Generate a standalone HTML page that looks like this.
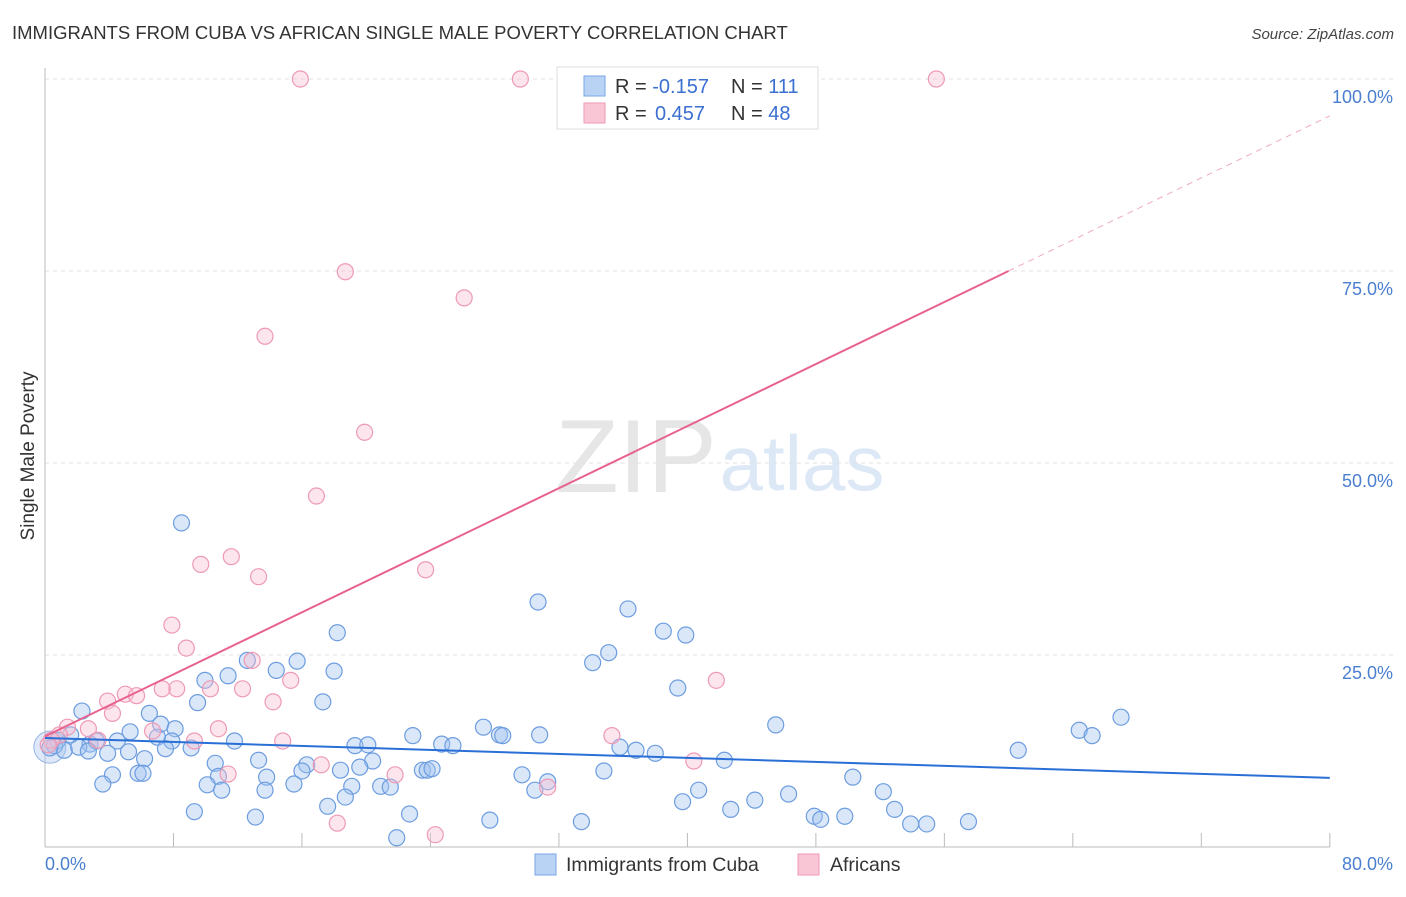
<!DOCTYPE html>
<html><head><meta charset="utf-8"><style>
body{margin:0;background:#fff;font-family:"Liberation Sans",sans-serif}
svg text{font-family:"Liberation Sans",sans-serif}
</style></head><body>
<svg id="chart" width="1406" height="892" xmlns="http://www.w3.org/2000/svg">
<text x="12" y="39" font-size="18.5" fill="#333">IMMIGRANTS FROM CUBA VS AFRICAN SINGLE MALE POVERTY CORRELATION CHART</text>
<text x="1394" y="39" font-size="15" fill="#444" font-style="italic" text-anchor="end">Source: ZipAtlas.com</text>
<text x="636" y="492" font-size="104" fill="#e6e6e6" font-family="Liberation Serif" text-anchor="middle">ZIP</text>
<text x="802" y="490" font-size="78" fill="#dce8f6" text-anchor="middle">atlas</text>
<g id="grid"></g>
<line x1="45" y1="68" x2="45" y2="847" stroke="#bbb"/>
<line x1="45" y1="847" x2="1330" y2="847" stroke="#bbb"/>
<text transform="translate(34,456) rotate(-90)" font-size="19" fill="#333" text-anchor="middle">Single Male Poverty</text>
<text x="45" y="870" font-size="18" fill="#4a7fd0">0.0%</text>
<text x="1393" y="870" font-size="18" fill="#4a7fd0" text-anchor="end">80.0%</text>
<g id="ylabels"></g>
<g id="points"></g>
<g id="trends"></g>
<g>
<rect x="557" y="67" width="261" height="62" fill="#fff" stroke="#ddd"/>
<rect x="584" y="76" width="21" height="20" fill="#b9d3f5" stroke="#7aa6e6"/>
<rect x="584" y="103" width="21" height="20" fill="#f9c6d5" stroke="#ee9ab4"/>
<text x="615" y="93" font-size="20" fill="#333">R = <tspan fill="#3b6fd0">-0.157</tspan><tspan x="731">N = </tspan><tspan fill="#3b6fd0">111</tspan></text>
<text x="615" y="120" font-size="20" fill="#333">R = <tspan fill="#3b6fd0" x="655">0.457</tspan><tspan x="731">N = </tspan><tspan fill="#3b6fd0">48</tspan></text>
</g>
<g>
<rect x="535" y="854" width="21" height="21" fill="#b9d3f5" stroke="#7aa6e6"/>
<text x="566" y="871" font-size="19.5" fill="#333">Immigrants from Cuba</text>
<rect x="798" y="854" width="21" height="21" fill="#f9c6d5" stroke="#ee9ab4"/>
<text x="830" y="871" font-size="19.5" fill="#333">Africans</text>
</g>
</svg>
<script>
const blueX=[8.5,30.7,36.3,38.5,39.9,18.2,35.1,34.1,15.7,12.6,14.4,18.0,11.4,9.96,39.4,17.3,9.5,2.3,6.5,67.0,45.5,64.4,65.2,27.3,28.3,28.5,30.8,22.9,7.2,8.1,5.3,7.0,7.9,11.8,4.5,2.8,3.2,1.6,0.8,0.6,1.2,0.3,2.1,2.7,3.9,5.2,7.5,9.1,19.3,20.1,24.7,25.4,35.8,36.8,38.0,60.6,6.2,13.3,20.4,42.3,10.6,16.3,19.6,16.0,18.4,23.5,23.8,24.1,34.8,4.2,5.8,6.1,10.8,13.8,29.7,50.3,31.3,3.6,10.1,15.5,19.1,20.9,21.5,11.0,13.7,30.5,40.7,52.2,18.7,39.7,44.2,46.3,17.6,42.7,52.9,9.3,22.7,13.1,47.9,48.3,49.8,27.7,33.4,53.9,54.9,57.5,21.9];
const blueY=[42.2,31.9,31.0,28.1,27.6,27.9,25.3,24.0,24.2,24.3,23.0,22.9,22.3,21.7,20.7,18.9,18.8,17.7,17.4,16.9,15.9,15.2,14.5,15.6,14.6,14.5,14.6,14.5,16.0,15.4,15.0,14.3,13.8,13.8,13.8,13.4,13.8,14.6,13.9,13.2,12.6,12.9,13.0,12.5,12.2,12.4,12.8,12.9,13.2,13.3,13.4,13.2,13.0,12.6,12.2,12.6,11.5,11.3,11.2,11.3,10.9,10.7,10.4,9.9,10.0,10.0,10.0,10.2,9.9,9.4,9.6,9.6,9.2,9.1,9.4,9.1,8.5,8.2,8.1,8.2,7.9,7.9,7.8,7.4,7.4,7.4,7.4,7.2,6.5,5.9,6.1,6.9,5.3,4.9,4.9,4.6,4.3,3.9,4.0,3.6,4.0,3.5,3.3,3.0,3.0,3.3,1.2];
const pinkX=[15.9,29.6,55.5,38.2,18.7,26.1,13.7,19.9,16.9,11.6,9.7,13.3,23.7,7.9,8.8,12.9,15.3,41.8,8.2,7.3,10.3,12.3,5.0,5.7,3.9,14.2,4.2,1.4,2.7,10.8,6.7,0.9,3.3,9.3,14.8,35.3,0.4,0.2,40.4,17.2,11.4,21.8,31.3,18.2,24.3];
const pinkY=[100,100,100,100,74.9,71.5,66.5,54.0,45.7,37.8,36.8,35.2,36.1,28.9,25.9,24.3,21.7,21.7,20.6,20.6,20.6,20.6,19.9,19.7,19.0,18.9,17.4,15.6,15.4,15.4,15.1,14.6,13.9,13.8,13.8,14.5,13.9,13.3,11.2,10.7,9.5,9.4,7.8,3.1,1.6];
const yTicks=[25,50,75,100];
const yTickLabels=["25.0%","50.0%","75.0%","100.0%"];
const xTicks=[0,8,16,24,32,40,48,56,64,72,80];
const blueTrend=[[0,14.2],[80,9.0]];
const pinkTrend=[[0,14.4],[60,75]];
const pinkTrendExt=[[60,75],[80,95.2]];
const sx=v=>45+v*16.06, sy=v=>847-v*7.68;
const NS="http://www.w3.org/2000/svg";
function mk(tag,attrs,parent){const e=document.createElementNS(NS,tag);for(const k in attrs)e.setAttribute(k,attrs[k]);document.getElementById(parent).appendChild(e);return e;}
yTicks.forEach((t,i)=>{
 const l=mk('line',{x1:45,x2:1394,y1:sy(t),y2:sy(t),stroke:'#e2e2e2','stroke-dasharray':'4,4'},'grid');
 
 
 const tx=mk('text',{x:1393,y:sy(t)+24,'font-size':18,fill:'#4a7fd0','text-anchor':'end'},'ylabels');
 tx.textContent=yTickLabels[i];
 
 
});
xTicks.forEach(t=>{
 const l=mk('line',{x1:sx(t),x2:sx(t),y1:833,y2:847,stroke:'#bbb'},'grid');
 
 
});
const big=mk('circle',{cx:sx(0.3),cy:sy(13),r:16,fill:'rgba(160,190,235,0.35)',stroke:'#9ab9e6'},'points');


blueX.forEach((x,i)=>{
 const c=mk('circle',{cx:sx(x),cy:sy(blueY[i]),r:8,fill:'rgba(160,195,240,0.4)',stroke:'#6d9de0','stroke-width':1.2},'points');
 
 
});
pinkX.forEach((x,i)=>{
 const c=mk('circle',{cx:sx(x),cy:sy(pinkY[i]),r:8,fill:'rgba(248,190,210,0.4)',stroke:'#ee9ab4','stroke-width':1.2},'points');
 
 
});
const bl=mk('line',{x1:sx(blueTrend[0][0]),y1:sy(blueTrend[0][1]),x2:sx(blueTrend[1][0]),y2:sy(blueTrend[1][1]),stroke:'#2a6fd6','stroke-width':2},'trends');


const pl=mk('line',{x1:sx(pinkTrend[0][0]),y1:sy(pinkTrend[0][1]),x2:sx(pinkTrend[1][0]),y2:sy(pinkTrend[1][1]),stroke:'#e8628e','stroke-width':2},'trends');


const pd=mk('line',{x1:sx(pinkTrendExt[0][0]),y1:sy(pinkTrendExt[0][1]),x2:sx(pinkTrendExt[1][0]),y2:sy(pinkTrendExt[1][1]),stroke:'#eeaac0','stroke-width':1,'stroke-dasharray':'6,5'},'trends');


</script>
</body></html>
